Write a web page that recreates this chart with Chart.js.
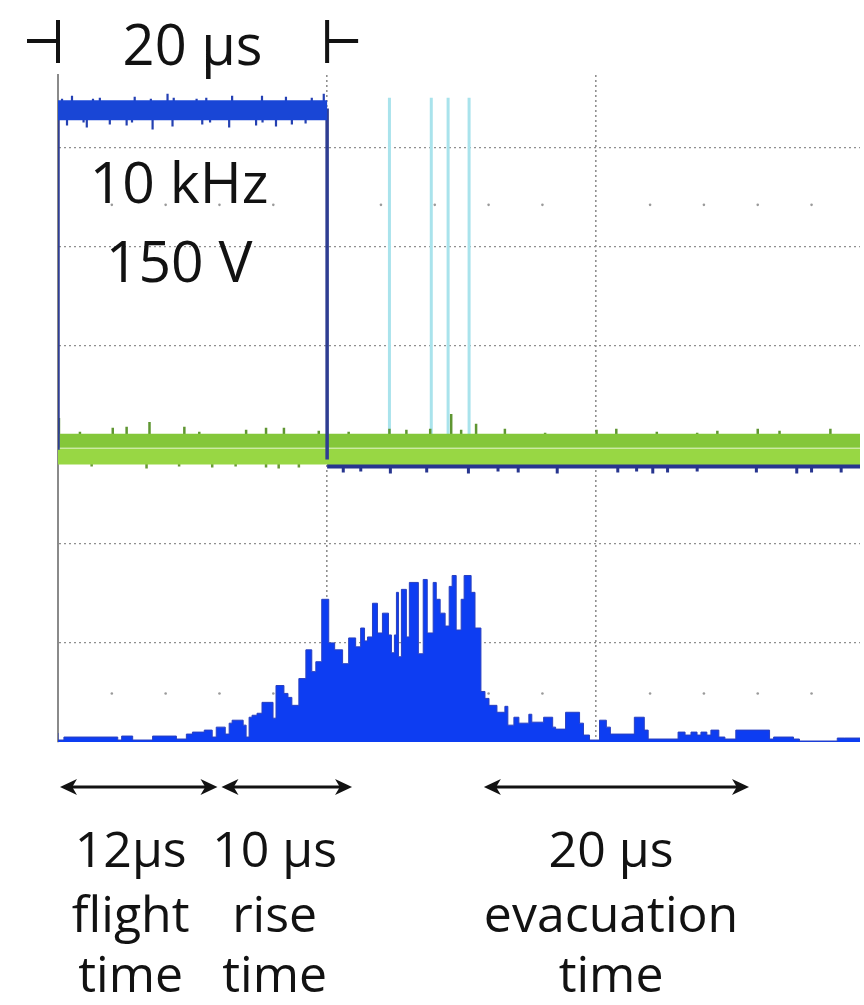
<!DOCTYPE html>
<html>
<head>
<meta charset="utf-8">
<script src="https://cdn.jsdelivr.net/npm/chart.js@4.4.1/dist/chart.umd.min.js"></script>
<style>
  html, body { margin: 0; padding: 0; background: #fff; }
  canvas { display: block; }
</style>
</head>
<body>
<canvas id="scope" width="864" height="1005"></canvas>
<script>
// time axis in µs (one division = 20 µs), vertical axis in divisions
var X_MAX = 59.6;
var Y_MAX = 6.73;
var xDivisions = [0, 20, 40];
var yDivisions = [0, 1, 2, 3, 4, 5, 6];

// ion signal histogram: each value holds from its time until the next one
var histT = [0, 0.44, 4.44, 4.73, 5.55, 7.03, 8.80, 9.54, 9.99, 10.87,
  11.46, 11.76, 12.43, 12.72, 12.94, 13.76, 13.98, 14.20, 14.42, 14.79,
  15.16, 15.98, 16.20, 16.79, 17.09, 17.38, 17.90, 18.42, 18.86, 19.16,
  19.60, 20.12, 20.56, 21.15, 21.60, 22.12, 22.49, 22.78, 23.00, 23.37,
  23.74, 24.11, 24.56, 24.78, 25.00, 25.15, 25.30, 25.52, 25.89, 26.11,
  26.78, 27.14, 27.44, 27.88, 28.11, 28.40, 28.77, 29.07, 29.29, 29.59,
  29.96, 30.18, 30.70, 30.99, 31.43, 31.73, 32.03, 32.62, 33.21, 33.43,
  33.88, 34.25, 34.99, 35.21, 36.09, 36.76, 36.98, 37.72, 38.76, 39.05,
  39.50, 40.24, 40.75, 41.05, 42.83, 43.57, 43.86, 46.08, 46.60, 47.04,
  47.49, 47.78, 48.22, 48.52, 49.11, 49.56, 50.37, 52.88, 53.18, 54.66,
  55.10, 57.91, 58.43, 59.6];
var histV = [0.09, 0.02, 0.05, 0.02, 0.06, 0.02, 0.06, 0.03, 0.08, 0.10,
  0.12, 0.05, 0.15, 0.08, 0.19, 0.22, 0.17, 0.05, 0.25, 0.27,
  0.29, 0.40, 0.24, 0.57, 0.49, 0.45, 0.37, 0.64, 0.93, 0.71,
  0.81, 1.44, 1.00, 0.93, 0.79, 1.05, 0.96, 1.15, 1.02, 1.06,
  1.40, 1.10, 1.30, 1.08, 0.90, 1.08, 1.51, 0.86, 1.54, 1.06,
  1.61, 0.89, 1.64, 1.10, 1.61, 1.44, 1.30, 1.17, 1.57, 1.68,
  1.13, 1.44, 1.68, 1.51, 1.15, 0.51, 0.44, 0.37, 0.30, 0.36,
  0.17, 0.25, 0.19, 0.28, 0.20, 0.25, 0.15, 0.13, 0.30, 0.19,
  0.07, 0.02, 0.22, 0.15, 0.08, 0.25, 0.12, 0.03, 0.10, 0.07,
  0.10, 0.07, 0.10, 0.07, 0.12, 0.05, 0.03, 0.12, 0.03, 0.05,
  0.03, 0.01, 0.04, 0.04];

// channel 1: 20 µs drive pulse
var pulseT = [0, 0, 20, 20];
var pulseV = [2.95, 6.375, 6.375, 2.85];
var ch1High = 6.375;
var ch1Low = 2.79;
var ch1UpT = [0.30, 1.04, 2.60, 3.11, 5.70, 6.90, 8.14, 8.60, 10.30, 11.02, 12.94, 15.16, 16.94, 18.86, 19.75];
var ch1UpV = [6.49, 6.52, 6.49, 6.50, 6.51, 6.49, 6.54, 6.50, 6.49, 6.50, 6.52, 6.52, 6.51, 6.50, 6.54];
var ch1DownT = [0.67, 1.90, 2.14, 3.85, 5.10, 5.50, 7.03, 8.51, 10.72, 11.30, 12.72, 14.72, 15.20, 16.20, 17.38, 18.40];
var ch1DownV = [6.22, 6.25, 6.20, 6.23, 6.22, 6.25, 6.18, 6.21, 6.23, 6.25, 6.20, 6.22, 6.25, 6.21, 6.23, 6.24];
var ch1LowT = [21.2, 22.5, 24.7, 27.4, 30.5, 32.7, 34.2, 37.1, 41.6, 43.0, 44.2, 45.3, 47.5, 51.9, 54.9, 56.0, 58.2];
var ch1LowV = [2.72, 2.73, 2.71, 2.72, 2.71, 2.73, 2.72, 2.71, 2.72, 2.73, 2.71, 2.72, 2.73, 2.72, 2.71, 2.72, 2.72];

// channel 2: detector baseline
var ch2Top = 3.04;
var ch2Bottom = 2.88;
var ch2UpT = [0.07, 1.63, 4.07, 5.10, 6.80, 9.39, 10.50, 13.98, 15.46, 16.79, 19.38, 21.60, 24.63, 25.89,
  27.66, 29.22, 29.96, 31.07, 33.21, 36.20, 40.02, 41.49, 44.50, 47.50, 49.00, 52.00, 53.62, 57.40];
var ch2UpV = [3.27, 3.13, 3.17, 3.18, 3.23, 3.18, 3.13, 3.15, 3.17, 3.17, 3.14, 3.13, 3.16, 3.15,
  3.16, 3.31, 3.15, 3.21, 3.16, 3.12, 3.15, 3.16, 3.13, 3.12, 3.14, 3.16, 3.14, 3.16];
var ch2DownT = [2.5, 6.58, 9.0, 11.46, 13.2, 15.46, 16.40, 17.90];
var ch2DownV = [2.78, 2.76, 2.78, 2.77, 2.78, 2.77, 2.76, 2.77];

// cursor markers
var markerT = [24.63, 27.74, 28.99, 30.55];
var markerTop = 6.50;
var markerBottom = 3.05;

// graticule centre dots
var dotT = [4, 8, 12, 16, 24, 28, 32, 36, 44, 48, 52, 56];
var dotRows = [5.42, 0.49];

// annotations
var divisionLabel = '20 µs';
var settingLabels = ['10 kHz', '150 V'];
var settingRows = [5.44, 4.64];
var settingX = 9.0;
var phaseStart = [0, 12, 31.5];
var phaseLength = [12, 10, 20];
var phaseValue = ['12µs', '10 µs', '20 µs'];
var phaseName = ['flight', 'rise', 'evacuation'];
var phaseTime = ['time', 'time', 'time'];
var phaseCenter = [5.4, 16.1, 41.1];

var FONT = "'Open Sans', 'Noto Sans', sans-serif";

function pts(ts, vs) {
  return ts.map(function(t, i) { return {x: t, y: vs[i]}; });
}

// vertical noise spikes rising (or dropping) from a trace level
function spikes(ts, vs, base) {
  var out = [];
  ts.forEach(function(t, i) {
    out.push({x: t, y: base}, {x: t, y: vs[i]}, {x: t, y: null});
  });
  return out;
}

function flat(from, to, v) {
  return [{x: from, y: v}, {x: to, y: v}];
}

var markers = [];
markerT.forEach(function(t) {
  markers.push({x: t, y: markerTop}, {x: t, y: markerBottom}, {x: t, y: null});
});

var dots = [];
dotRows.forEach(function(r) {
  dotT.forEach(function(t) { dots.push({x: t, y: r}); });
});

function trace(data, color, width, order, extra) {
  var ds = {data: data, borderColor: color, borderWidth: width, pointRadius: 0, fill: false, order: order};
  for (var k in extra) ds[k] = extra[k];
  return ds;
}

var datasets = [
  // channel 1 high level and its noise
  trace(flat(0, 20, ch1High), '#1946d6', 20, 1),
  trace(spikes(ch1UpT, ch1UpV, ch1High), '#2440b4', 2.2, 1.5),
  trace(spikes(ch1DownT, ch1DownV, ch1High), '#2440b0', 2.2, 1.5),
  trace(pts(pulseT, pulseV), '#2e3d92', 3.5, 1.6),
  // channel 2 band
  trace(flat(0, X_MAX, ch2Top), '#84c73a', 14, 2),
  trace(flat(0, X_MAX, ch2Bottom), '#98d744', 16, 2.1),
  trace(spikes(ch2UpT, ch2UpV, 3.08), '#5f9632', 2.5, 3),
  trace(spikes(ch2DownT, ch2DownV, 2.84), '#6a9a38', 2.5, 3),
  // channel 1 low level peeking out under channel 2
  trace(flat(20, X_MAX, ch1Low), '#27358f', 6, 4),
  trace(spikes(ch1LowT, ch1LowV, ch1Low), '#27358f', 3, 4),
  // cursors
  trace(markers, '#a9e3ec', 3, 5),
  // signal histogram
  trace(pts(histT, histV), '#2a40c0', 1, 6, {stepped: 'after', fill: 'origin', backgroundColor: '#0d3df2'}),
  // graticule dots
  trace(dots, 'rgba(0,0,0,0)', 0, 7, {showLine: false, pointRadius: 1.3, pointBackgroundColor: '#9a9a9a', pointBorderWidth: 0})
];

function drawArrow(ctx, x1, x2, y) {
  var h = 17, w = 8;
  ctx.lineWidth = 3;
  ctx.beginPath();
  ctx.moveTo(x1 + 8, y);
  ctx.lineTo(x2 - 8, y);
  ctx.stroke();
  [[x1, 1], [x2, -1]].forEach(function(e) {
    var x = e[0], d = e[1];
    ctx.beginPath();
    ctx.moveTo(x, y);
    ctx.lineTo(x + d * h, y - w);
    ctx.lineTo(x + d * h * 0.72, y);
    ctx.lineTo(x + d * h, y + w);
    ctx.closePath();
    ctx.fill();
  });
}

var notes = {
  id: 'notes',
  afterDatasetsDraw: function(chart) {
    var ctx = chart.ctx, a = chart.chartArea;
    var xs = chart.scales.x, ys = chart.scales.y;
    ctx.save();
    ctx.fillStyle = '#121212';
    ctx.strokeStyle = '#121212';
    ctx.textAlign = 'center';
    ctx.textBaseline = 'alphabetic';

    // one-division marker above the screen
    var l = xs.getPixelForValue(0), r = xs.getPixelForValue(20);
    ctx.lineWidth = 4;
    ctx.beginPath();
    ctx.moveTo(l, a.top - 55); ctx.lineTo(l, a.top - 12);
    ctx.moveTo(l - 31, a.top - 34); ctx.lineTo(l, a.top - 34);
    ctx.moveTo(r, a.top - 55); ctx.lineTo(r, a.top - 12);
    ctx.moveTo(r, a.top - 34); ctx.lineTo(r + 31, a.top - 34);
    ctx.stroke();
    ctx.font = '56px ' + FONT;
    ctx.fillText(divisionLabel, xs.getPixelForValue(10), a.top - 10);

    // drive settings
    ctx.font = '57px ' + FONT;
    settingLabels.forEach(function(s, i) {
      ctx.fillText(s, xs.getPixelForValue(settingX), ys.getPixelForValue(settingRows[i]));
    });

    // timing phases below the screen
    ctx.font = '50px ' + FONT;
    phaseStart.forEach(function(s, i) {
      drawArrow(ctx, xs.getPixelForValue(s) + 2, xs.getPixelForValue(s + phaseLength[i]) - 2, a.bottom + 45);
      var cx = xs.getPixelForValue(phaseCenter[i]);
      ctx.fillText(phaseValue[i], cx, a.bottom + 125);
      ctx.fillText(phaseName[i], cx, a.bottom + 190);
      ctx.fillText(phaseTime[i], cx, a.bottom + 250);
    });
    ctx.restore();
  }
};

function divisionTicks(list) {
  return function(s) {
    s.ticks = list.map(function(v) { return {value: v}; });
  };
}

new Chart(document.getElementById('scope'), {
  type: 'line',
  data: {datasets: datasets},
  options: {
    responsive: false,
    animation: false,
    devicePixelRatio: 1,
    layout: {padding: {left: 58, right: 0, top: 75, bottom: 263}},
    plugins: {legend: {display: false}, tooltip: {enabled: false}},
    elements: {line: {tension: 0}},
    scales: {
      x: {
        type: 'linear', min: 0, max: X_MAX,
        afterBuildTicks: divisionTicks(xDivisions),
        ticks: {display: false},
        grid: {
          drawTicks: false, lineWidth: 1.6,
          color: function(c) { return c.index > 0 ? '#8f8f8f' : 'rgba(0,0,0,0)'; }
        },
        border: {display: false, dash: [2, 3]},
        afterFit: function(s) { s.height = 0; }
      },
      y: {
        min: 0, max: Y_MAX,
        afterBuildTicks: divisionTicks(yDivisions),
        ticks: {display: false},
        grid: {
          drawTicks: false, lineWidth: 1.2,
          color: function(c) { return c.index > 0 ? '#8f8f8f' : 'rgba(0,0,0,0)'; }
        },
        border: {display: true, color: '#8a8a8a', width: 2, dash: [2, 3]},
        afterFit: function(s) { s.width = 0; }
      }
    }
  },
  plugins: [notes]
});
</script>
</body>
</html>
